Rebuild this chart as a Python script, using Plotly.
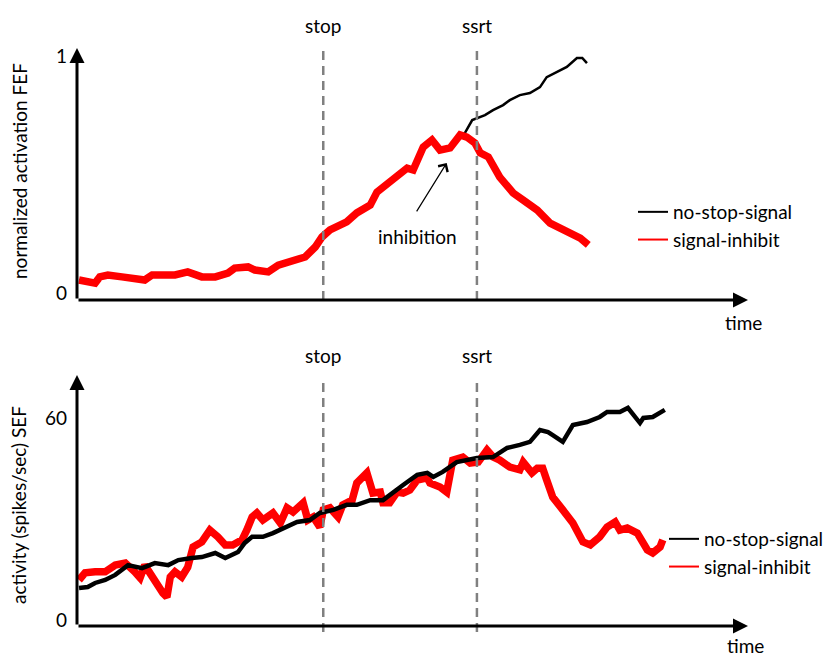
import plotly.graph_objects as go

# -----------------------------
# DATA (time in arbitrary units, 0..100)
# -----------------------------
stop_time = 36.7
ssrt_time = 59.6

# top panel: FEF normalized activation
fef_inhibit_t = [0.3, 2.7, 3.4, 4.6, 6.7, 8.6, 10.1, 11.2, 14.6, 16.5, 18.6, 20.6, 22.5, 23.5,
                 25.5, 26.5, 28.5, 30.0, 32.0, 34.0, 35.5, 36.5, 37.7, 40.2, 41.7, 43.7, 44.7,
                 47.1, 49.2, 50.1, 51.6, 52.9, 54.1, 55.6, 57.1, 58.1, 59.3, 60.1, 61.3, 63.0,
                 65.0, 66.5, 68.6, 70.5, 73.0, 75.0, 76.2]
fef_inhibit_y = [0.055, 0.042, 0.068, 0.076, 0.068, 0.063, 0.055, 0.076, 0.076, 0.089, 0.068,
                 0.068, 0.084, 0.105, 0.110, 0.097, 0.089, 0.118, 0.131, 0.152, 0.194, 0.236,
                 0.266, 0.300, 0.338, 0.371, 0.426, 0.477, 0.527, 0.519, 0.616, 0.646, 0.603,
                 0.612, 0.667, 0.658, 0.633, 0.591, 0.574, 0.489, 0.422, 0.392, 0.350, 0.295,
                 0.257, 0.232, 0.203]

# no-stop-signal follows the same path until it splits off near ssrt
fef_nostop_t = fef_inhibit_t[:35] + [57.8, 58.9, 59.6, 60.8, 62.0, 63.5, 64.5, 66.0, 67.5,
                                     69.0, 70.0, 71.5, 73.0, 74.5, 75.3, 76.0]
fef_nostop_y = fef_inhibit_y[:35] + [0.675, 0.730, 0.738, 0.751, 0.772, 0.793, 0.814, 0.835,
                                     0.844, 0.869, 0.911, 0.932, 0.954, 0.992, 0.992, 0.970]

# bottom panel: SEF activity (spikes/sec)
sef_nostop_t = [0.3, 1.6, 2.7, 4.2, 5.7, 7.6, 9.7, 11.6, 13.6, 15.1, 17.1, 18.6, 20.6, 22.1,
                24.0, 25.0, 26.1, 27.7, 29.2, 30.7, 32.8, 34.7, 36.2, 38.2, 40.2, 41.7, 43.7,
                45.6, 47.1, 48.6, 50.7, 52.2, 53.1, 54.5, 56.6, 59.6, 62.0, 64.1, 66.0, 67.5,
                69.0, 70.2, 70.9, 72.4, 73.9, 76.0, 77.9, 79.0, 80.9, 82.1, 83.9, 84.4, 85.8,
                86.9, 87.6]
sef_nostop_y = [9.5, 9.8, 11.0, 11.9, 13.4, 16.3, 15.4, 16.9, 16.3, 17.8, 18.4, 18.7, 19.9,
                18.4, 20.2, 22.9, 24.7, 24.7, 25.8, 27.3, 29.1, 29.7, 31.8, 32.7, 34.2, 34.2,
                35.6, 35.6, 38.0, 40.1, 43.1, 43.7, 42.5, 44.0, 46.9, 48.1, 48.4, 51.1, 52.0,
                52.9, 56.4, 55.8, 54.9, 52.9, 57.9, 58.8, 60.3, 61.8, 61.8, 63.0, 58.5, 60.0,
                60.3, 61.8, 62.4]

sef_inhibit_t = [0.3, 1.2, 2.7, 4.2, 5.7, 7.2, 8.6, 9.4, 10.1, 11.6, 12.8, 13.4, 13.9, 14.6,
                 15.6, 16.5, 17.3, 18.6, 19.8, 21.0, 22.1, 23.2, 24.6, 25.3, 26.1, 26.8, 27.7,
                 29.2, 30.3, 31.3, 32.2, 33.7, 34.4, 35.2, 36.2, 36.7, 37.7, 38.9, 39.6, 41.0,
                 41.7, 43.2, 44.1, 45.2, 45.6, 46.6, 47.7, 48.6, 49.6, 50.7, 52.2, 52.6, 54.1,
                 55.1, 55.6, 56.0, 57.5, 58.6, 59.8, 61.1, 62.0, 63.0, 64.5, 66.0, 66.5, 67.8,
                 68.6, 69.4, 70.0, 70.9, 72.4, 73.9, 75.4, 76.5, 77.9, 79.0, 80.2, 80.9, 82.0,
                 83.5, 85.0, 85.8, 86.9, 87.3]
sef_inhibit_y = [11.9, 14.0, 14.3, 14.3, 16.3, 16.9, 14.3, 12.5, 16.3, 11.3, 8.0, 6.8, 12.8,
                 14.3, 12.8, 15.7, 21.7, 23.2, 26.7, 24.7, 22.3, 22.3, 23.8, 26.7, 30.6, 31.8,
                 29.7, 31.8, 28.8, 33.3, 32.1, 34.8, 29.7, 30.6, 27.6, 32.7, 33.3, 30.6, 34.2,
                 35.6, 40.7, 43.7, 37.7, 38.0, 34.8, 34.8, 38.0, 37.7, 38.6, 41.6, 42.2, 40.7,
                 39.5, 38.0, 42.2, 47.5, 48.4, 46.6, 46.9, 50.5, 48.4, 47.5, 45.4, 44.6, 46.9,
                 43.7, 45.1, 45.1, 41.6, 36.5, 32.7, 28.8, 23.2, 22.3, 24.7, 27.6, 29.1, 26.7,
                 27.3, 25.8, 20.8, 19.9, 21.7, 23.8]

FONT = "Lato"
FS = 19
RED = "#ff0000"
DASH_GREY = "#808080"

# page body has an 8px margin, so the figure is a little smaller than the window
OFF = 8
W, H = 835 - OFF, 665 - OFF


def px(x):
    return (x - OFF) / W


def py(y):
    return 1 - (y - OFF) / H


fig = go.Figure()

# -----------------------------
# TRACES
# -----------------------------
fig.add_trace(go.Scatter(x=fef_nostop_t, y=fef_nostop_y, mode="lines",
                         line=dict(color="black", width=2.5), showlegend=False,
                         xaxis="x", yaxis="y"))
fig.add_trace(go.Scatter(x=fef_inhibit_t, y=fef_inhibit_y, mode="lines",
                         line=dict(color=RED, width=7.5), showlegend=False,
                         xaxis="x", yaxis="y"))
fig.add_trace(go.Scatter(x=sef_inhibit_t, y=sef_inhibit_y, mode="lines",
                         line=dict(color=RED, width=7.5), showlegend=False,
                         xaxis="x2", yaxis="y2"))
fig.add_trace(go.Scatter(x=sef_nostop_t, y=sef_nostop_y, mode="lines",
                         line=dict(color="black", width=4.5), showlegend=False,
                         xaxis="x2", yaxis="y2"))

# legend entries (thin samples)
for leg in ["legend", "legend2"]:
    fig.add_trace(go.Scatter(x=[None], y=[None], mode="lines", name="no-stop-signal",
                             line=dict(color="black", width=2), legend=leg))
    fig.add_trace(go.Scatter(x=[None], y=[None], mode="lines", name="signal-inhibit",
                             line=dict(color=RED, width=2), legend=leg))

# -----------------------------
# AXES
# -----------------------------
x_dom = [px(77), px(748)]
top_range = [-0.0295, 1.034]
bot_range = [-1.78, 72.77]

axis_common = dict(showgrid=False, zeroline=False, showline=False, automargin=False)
fig.update_layout(
    xaxis=dict(domain=x_dom, range=[0, 100], showticklabels=False, anchor="y", **axis_common),
    yaxis=dict(domain=[py(300), py(48)], range=top_range, tickvals=[0, 1],
               ticks="", ticklabelstandoff=9, anchor="x", **axis_common),
    xaxis2=dict(domain=x_dom, range=[0, 100], showticklabels=False, anchor="y2", **axis_common),
    yaxis2=dict(domain=[py(626), py(375)], range=bot_range, tickvals=[0, 60],
                ticks="", ticklabelstandoff=9, anchor="x2", **axis_common),
)

annotations = []
shapes = []


def label(x, y, text, xref, yref, **kw):
    return dict(x=x, y=y, xref=xref, yref=yref, text=text, showarrow=False,
                xanchor="center", yanchor="middle", font=dict(size=FS), **kw)


# axis arrows
for xr, yr, yrng in [("x", "y", top_range), ("x2", "y2", bot_range)]:
    annotations.append(dict(x=100, y=yrng[0], ax=0, ay=yrng[0], xref=xr, yref=yr,
                            axref=xr, ayref=yr, text="", showarrow=True, arrowhead=2,
                            arrowsize=1, arrowwidth=3, arrowcolor="black"))
    annotations.append(dict(x=0, y=yrng[1], ax=0, ay=yrng[0], xref=xr, yref=yr,
                            axref=xr, ayref=yr, text="", showarrow=True, arrowhead=2,
                            arrowsize=1, arrowwidth=3, arrowcolor="black"))

# stop / ssrt dashed lines and labels
for xr, y0, y1, ylab in [("x", py(300), py(46), py(25)),
                         ("x2", py(632), py(380), py(355))]:
    for t, lab in [(stop_time, "stop"), (ssrt_time, "ssrt")]:
        shapes.append(dict(type="line", xref=xr, yref="paper", x0=t, x1=t, y0=y0, y1=y1,
                           line=dict(color=DASH_GREY, width=2.5, dash="9px,6px")))
        annotations.append(label(t, ylab, lab, xr, "paper"))

# time labels
annotations.append(label(99.3, py(322), "time", "x", "paper"))
annotations.append(label(99.6, py(645), "time", "x2", "paper"))

# y axis titles
annotations.append(label(px(20), py(171), "normalized activation FEF", "paper", "paper",
                         textangle=-90))
annotations.append(label(px(18), py(505), "activity (spikes/sec) SEF", "paper", "paper",
                         textangle=-90))

# inhibition pointer
annotations.append(dict(x=55.1, y=0.549, xref="x", yref="y", ax=-31, ay=50, text="",
                        showarrow=True, arrowhead=4, arrowsize=1.8, arrowwidth=1.2,
                        arrowcolor="black"))
annotations.append(label(50.7, 0.24, "inhibition", "x", "y"))

fig.update_layout(
    width=W, height=H,
    margin=dict(l=0, r=0, t=0, b=0, pad=0),
    paper_bgcolor="white", plot_bgcolor="white",
    font=dict(family=FONT, size=FS, color="black"),
    annotations=annotations, shapes=shapes,
    legend=dict(x=px(633), y=py(193), xanchor="left", yanchor="top",
                bgcolor="rgba(0,0,0,0)", font=dict(size=FS), itemwidth=30,
                tracegroupgap=0),
    legend2=dict(x=px(664), y=py(520), xanchor="left", yanchor="top",
                 bgcolor="rgba(0,0,0,0)", font=dict(size=FS), itemwidth=30,
                 tracegroupgap=0),
)

fig.write_html("out.html")
